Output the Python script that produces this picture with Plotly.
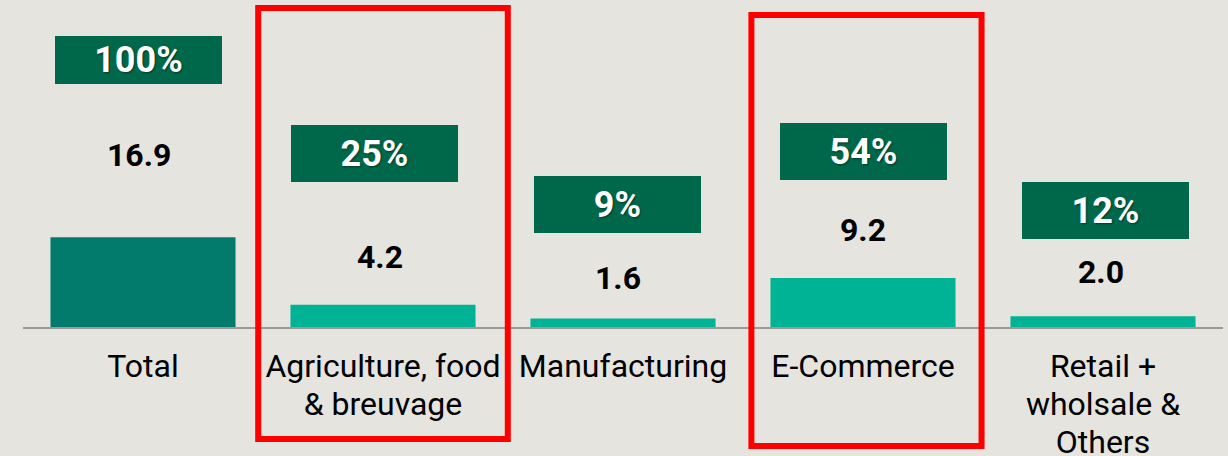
import plotly.graph_objects as go

# data
categories = ["Total", "Agriculture, food<br>& breuvage", "Manufacturing",
              "E-Commerce", "Retail +<br>wholsale &<br>Others"]
values = [16.9, 4.2, 1.6, 9.2, 2.0]
shares = ["100%", "25%", "9%", "54%", "12%"]

# layout helpers (label heights in axis units, pixel nudges)
value_label_y = [32.3, 13.2, 9.3, 18.2, 10.3]
badge_y = [50.2, 32.6, 23.0, 33.0, 21.9]
badge_height = [48, 57, 57, 57, 57]
badge_shift = [-5, -9, -6, 0, 2]
value_shift = [-4, -3, -5, 0, -2]

BG = "#E5E4DF"
bar_colors = ["#027B6D"] + ["#00B395"] * (len(values) - 1)

# tighter line spacing: small base font, each line drawn at 32px
tick_labels = ["<br>".join(f'<span style="font-size:32px">{part}</span>'
                           for part in c.split("<br>")) for c in categories]

fig = go.Figure()
fig.add_trace(go.Bar(
    x=list(range(len(categories))),
    y=values,
    marker=dict(color=bar_colors, line=dict(width=0)),
    width=0.771,
    hoverinfo="skip",
))

annotations = []
for i, (v, s) in enumerate(zip(values, shares)):
    annotations.append(dict(
        x=i, y=value_label_y[i], xref="x", yref="y", text=f"{v:.1f}",
        showarrow=False, xshift=value_shift[i],
        font=dict(family="Roboto", size=32, color="#000000", weight="bold"),
    ))
    annotations.append(dict(
        x=i, y=badge_y[i], xref="x", yref="y", text=s,
        showarrow=False, xshift=badge_shift[i],
        width=167, height=badge_height[i], bgcolor="#00684A",
        borderpad=0, borderwidth=0, valign="middle",
        font=dict(family="Roboto", size=36, color="#FFFFFF", weight="bold",
                  shadow="1px 1px 2px rgba(0,0,0,0.45)"),
    ))

shapes = [
    dict(type="rect", xref="x", yref="paper", x0=0.48, x1=1.52, y0=-0.3425, y1=0.9755,
         line=dict(color="#FF0000", width=6), fillcolor="rgba(0,0,0,0)"),
    dict(type="rect", xref="x", yref="paper", x0=2.535, x1=3.494, y0=-0.364, y1=0.954,
         line=dict(color="#FF0000", width=6), fillcolor="rgba(0,0,0,0)"),
]

fig.update_layout(
    width=1228, height=456,
    margin=dict(l=23, r=5, t=0, b=129),
    paper_bgcolor=BG, plot_bgcolor=BG,
    showlegend=False,
    annotations=annotations,
    shapes=shapes,
    font=dict(family="Roboto", size=32, color="#000000"),
    xaxis=dict(
        tickmode="array", tickvals=list(range(len(categories))), ticktext=tick_labels,
        range=[-0.5, len(categories) - 0.5], tickangle=0, automargin=False,
        showline=True, linecolor="#9A9A9A", linewidth=2, showgrid=False,
        ticks="", ticklabelstandoff=13, zeroline=False,
        tickfont=dict(family="Roboto", size=29.2, color="#000000"),
    ),
    yaxis=dict(range=[0, 61.5], visible=False, showgrid=False, zeroline=False,
               automargin=False),
)

fig.write_html(
    "out.html",
    config={"displayModeBar": False},
    post_script="document.body.style.margin='0';document.body.style.overflow='hidden';",
)
